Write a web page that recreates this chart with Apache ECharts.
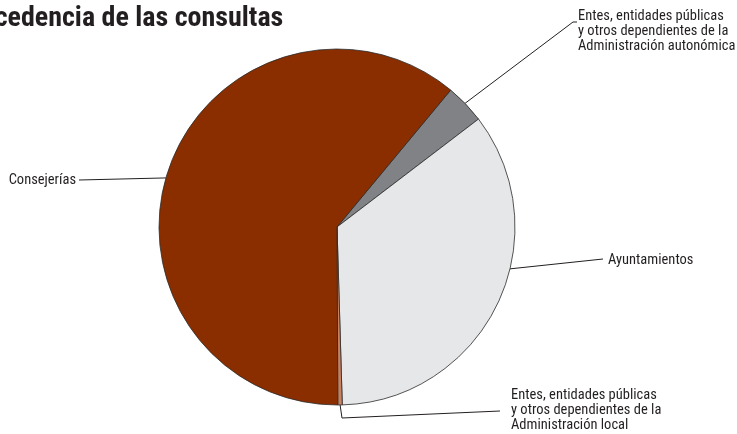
<!DOCTYPE html>
<html>
<head>
<meta charset="utf-8">
<script src="https://cdn.jsdelivr.net/npm/echarts@6/dist/echarts.min.js"></script>
<style>
  html, body { margin: 0; padding: 0; background: #fff; }
  #main { width: 737px; height: 434px; }
</style>
</head>
<body>
<div id="main"></div>
<script>
// datos
var categorias = [
	"Entes, entidades públicas\ny otros dependientes de la\nAdministración autonómica",
	"Ayuntamientos",
	"Entes, entidades públicas\ny otros dependientes de la\nAdministración local",
	"Consejerías"
];
var porcentajes = [3.6, 34.9, 0.4, 61.1];
var colores = ["#808285", "#e6e7e8", "#c98260", "#8a2e00"];

var FONT = "'Roboto Condensed', 'Liberation Sans', sans-serif";
var centro = [337, 227];
var radio = 178;

// posicion de cada etiqueta y su linea (angulo de anclaje en grados desde arriba)
var etiquetas = [
	{ x: 578, y: 9, align: "left", va: "top", ang: 46, codo: [573, 22], fin: [577, 22] },
	{ x: 608, y: 260, align: "left", va: "middle", ang: 103.6, codo: null, fin: [603, 259] },
	{ x: 511, y: 388, align: "left", va: "top", ang: 179, codo: [342, 418], fin: [500, 411] },
	{ x: 76, y: 180, align: "right", va: "middle", ang: 286, codo: null, fin: [79, 180] }
];

function borde(ang) {
	var a = ang * Math.PI / 180;
	return [centro[0] + radio * Math.sin(a), centro[1] - radio * Math.cos(a)];
}

var myChart = echarts.init(document.getElementById("main"));

var datos = [];
for (var i = 0; i < categorias.length; i++) {
	datos.push({ name: categorias[i], value: porcentajes[i], itemStyle: { color: colores[i] } });
}

var option = {
	animation: false,
	title: {
		text: "Procedencia de las consultas",
		left: -49,
		top: 0,
		textStyle: { fontFamily: FONT, fontWeight: "bold", fontSize: 28, color: "#231f20" }
	},
	series: [{
		type: "pie",
		center: centro,
		radius: radio,
		startAngle: 50.3,
		clockwise: true,
		avoidLabelOverlap: false,
		itemStyle: { borderColor: "#2b2b2b", borderWidth: 0.8 },
		label: {
			show: true,
			position: "outside",
			fontFamily: FONT,
			fontSize: 14.5,
			lineHeight: 15,
			color: "#231f20"
		},
		labelLine: { show: true, lineStyle: { color: "#231f20", width: 1 } },
		labelLayout: function (params) {
			var e = etiquetas[params.dataIndex];
			var pts = [borde(e.ang)];
			if (e.codo) pts.push(e.codo);
			pts.push(e.fin);
			if (pts.length === 2) pts.push(e.fin);
			return { x: e.x, y: e.y, align: e.align, verticalAlign: e.va, labelLinePoints: pts };
		},
		emphasis: { disabled: true },
		data: datos
	}]
};

myChart.setOption(option);
</script>
</body>
</html>
